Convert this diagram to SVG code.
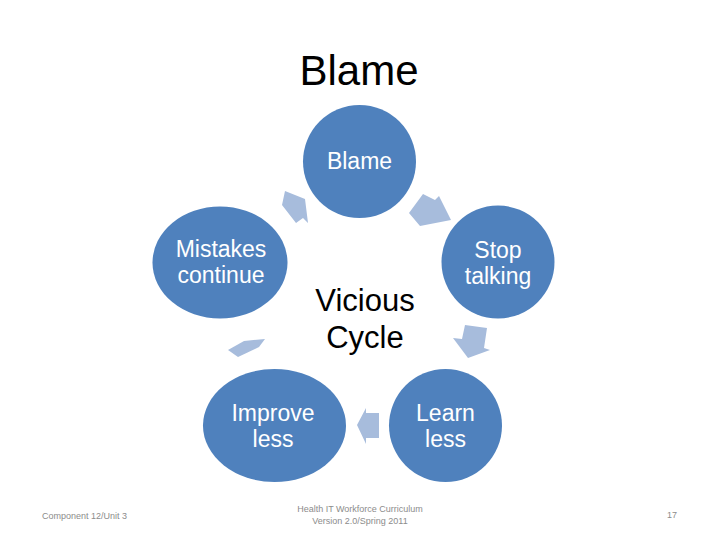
<svg xmlns="http://www.w3.org/2000/svg" width="720" height="540" viewBox="0 0 720 540">
  <style>
    .node { fill: #4F81BD; }
    .ntxt { fill: #FFFFFF; font-family: "Liberation Sans", Arial, sans-serif; font-size: 23px; text-anchor: middle; }
    .arrow { fill: #A7BCDC; }
    .foot { fill: #8C8C8C; font-family: "Liberation Sans", Arial, sans-serif; font-size: 9px; }
  </style>
  <rect x="0" y="0" width="720" height="540" fill="#FFFFFF"/>
  <text x="359" y="85" font-family="Liberation Sans, Arial, sans-serif" font-size="42" text-anchor="middle" fill="#000000">Blame</text>

  <g id="connectors">
    <polygon class="arrow" points="285,191 305,199 308,223 303,218 296,223 282,205"/>
    <polygon class="arrow" points="423,194 435,200 439,196 451,220 420,226 409,213"/>
    <polygon class="arrow" points="465,325 487,328 484,348 490,350 468,358 453,338 462,339"/>
    <polygon class="arrow" points="357,425 366,408 366,413 379,413 379,438 366,438 366,444"/>
    <polygon class="arrow" points="228,350 244,341 265,339 259,347 238,357"/>
  </g>

  <g id="node-blame">
    <circle class="node" cx="359.5" cy="161.5" r="56.5"/>
    <text class="ntxt" x="359.5" y="169">Blame</text>
  </g>
  <g id="node-stop">
    <circle class="node" cx="498" cy="262" r="56.5"/>
    <text class="ntxt" x="498" y="258">Stop</text>
    <text class="ntxt" x="498" y="284">talking</text>
  </g>
  <g id="node-learn">
    <circle class="node" cx="445.5" cy="425.5" r="56.5"/>
    <text class="ntxt" x="445.5" y="421">Learn</text>
    <text class="ntxt" x="445.5" y="447">less</text>
  </g>
  <g id="node-improve">
    <ellipse class="node" cx="274.5" cy="425.5" rx="71.5" ry="56.5"/>
    <text class="ntxt" x="273" y="421">Improve</text>
    <text class="ntxt" x="273" y="447">less</text>
  </g>
  <g id="node-mistakes">
    <ellipse class="node" cx="220" cy="262.5" rx="67.5" ry="56"/>
    <text class="ntxt" x="221" y="257">Mistakes</text>
    <text class="ntxt" x="221" y="283">continue</text>
  </g>
  <g id="center-label">
    <text x="365" y="311" font-family="Liberation Sans, Arial, sans-serif" font-size="31" text-anchor="middle" fill="#000000">Vicious</text>
    <text x="365" y="348" font-family="Liberation Sans, Arial, sans-serif" font-size="31" text-anchor="middle" fill="#000000">Cycle</text>
  </g>

  <g id="footer">
    <text class="foot" x="42" y="519">Component 12/Unit 3</text>
    <text class="foot" x="360" y="512" text-anchor="middle">Health IT Workforce Curriculum</text>
    <text class="foot" x="360" y="524" text-anchor="middle">Version 2.0/Spring 2011</text>
    <text class="foot" x="672" y="518" text-anchor="middle">17</text>
  </g>
</svg>
